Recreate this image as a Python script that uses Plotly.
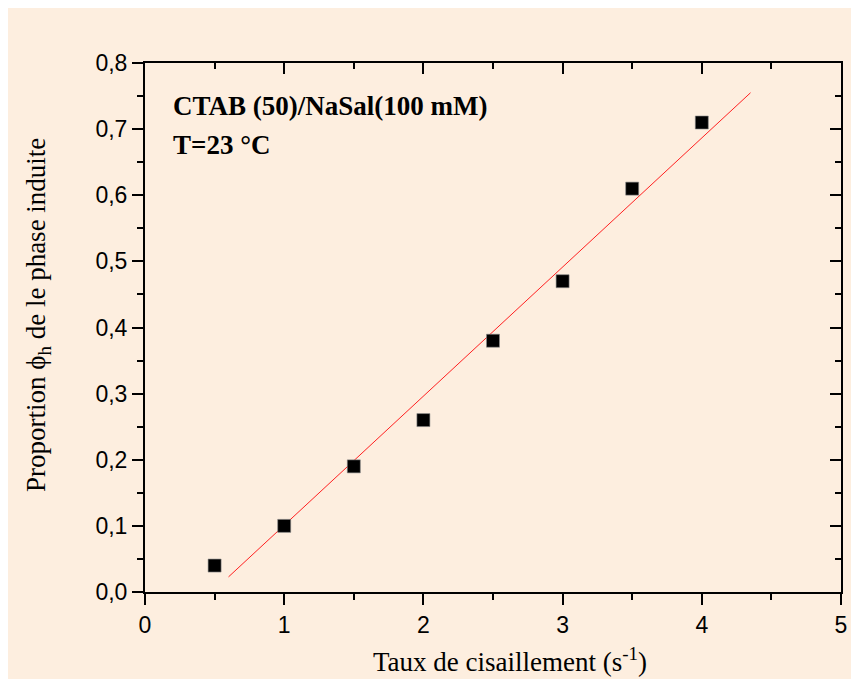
import numpy as np
import plotly.graph_objects as go

# Data
shear_rate = [0.5, 1.0, 1.5, 2.0, 2.5, 3.0, 3.5, 4.0]
proportion = [0.04, 0.10, 0.19, 0.26, 0.38, 0.47, 0.61, 0.71]
fit_x_range = [0.6, 4.35]
annotation_lines = ["CTAB (50)/NaSal(100 mM)", "T=23 °C"]
x_title = "Taux de cisaillement (s<sup>-1</sup>)"
y_title = "Proportion ϕ<sub>h</sub> de le phase induite"

slope, intercept = np.polyfit(shear_rate, proportion, 1)
fit_x = np.array(fit_x_range)
fit_y = slope * fit_x + intercept

W, H = 851, 671
ml, mr, mt, mb = 137, 18, 55, 87
bg = "#FDEEDF"
pw = W - ml - mr
ph = H - mt - mb

fig = go.Figure()
fig.add_trace(go.Scatter(x=fit_x, y=fit_y, mode="lines",
                         line=dict(color="#FF2020", width=1), showlegend=False,
                         hoverinfo="skip"))
fig.add_trace(go.Scatter(x=shear_rate, y=proportion, mode="markers",
                         marker=dict(symbol="square", size=13, color="black",
                                     line=dict(color="#8a8a8a", width=0.6)),
                         showlegend=False))
# invisible trace for mirrored axes
fig.add_trace(go.Scatter(x=[shear_rate[0]], y=[proportion[0]], xaxis="x2", yaxis="y2",
                         mode="markers", marker=dict(opacity=0), showlegend=False,
                         hoverinfo="skip"))

tickfont = dict(family="Liberation Sans, Arial", size=23, color="black")
titlefont = dict(family="Liberation Serif, Times New Roman", size=27, color="black")

fig.update_layout(
    width=W, height=H,
    margin=dict(l=ml, r=mr, t=mt, b=mb),
    paper_bgcolor=bg,
    plot_bgcolor=bg,
    separators=", ",
    xaxis=dict(range=[0, 5], dtick=1, tickformat="d", showgrid=False, zeroline=False,
               showline=True, linecolor="black", linewidth=2,
               ticks="outside", ticklen=11, tickwidth=2, tickcolor="black",
               minor=dict(ticks="outside", ticklen=6, tickwidth=2, tickcolor="black", dtick=0.5),
               tickfont=tickfont),
    yaxis=dict(range=[0, 0.8], dtick=0.1, tickformat=".1f", showgrid=False, zeroline=False,
               showline=True, linecolor="black", linewidth=2,
               ticks="outside", ticklen=11, tickwidth=2, tickcolor="black",
               minor=dict(ticks="outside", ticklen=6, tickwidth=2, tickcolor="black", dtick=0.05),
               tickfont=tickfont),
    xaxis2=dict(range=[0, 5], dtick=1, overlaying="x", side="top", anchor="y2",
                showgrid=False, zeroline=False, showticklabels=False,
                showline=True, linecolor="black", linewidth=2,
                ticks="inside", ticklen=11, tickwidth=2, tickcolor="black",
                minor=dict(ticks="inside", ticklen=6, tickwidth=2, tickcolor="black", dtick=0.5)),
    yaxis2=dict(range=[0, 0.8], dtick=0.1, overlaying="y", side="right", anchor="x2",
                showgrid=False, zeroline=False, showticklabels=False,
                showline=True, linecolor="black", linewidth=2,
                ticks="inside", ticklen=11, tickwidth=2, tickcolor="black",
                minor=dict(ticks="inside", ticklen=6, tickwidth=2, tickcolor="black", dtick=0.05)),
)

# axis titles as annotations (positioned like the reference)
fig.add_annotation(x=(510 - 145) / pw, y=-(660 - 592) / ph, xref="paper", yref="paper",
                   text=x_title, showarrow=False, xanchor="center", yanchor="middle",
                   font=titlefont)
fig.add_annotation(x=-(145 - 38) / pw, y=(592 - 315) / ph, xref="paper", yref="paper",
                   text=y_title, showarrow=False, xanchor="center", yanchor="middle",
                   textangle=-90, font=titlefont)

ann_y = [0.919, 0.845]
for txt, yy in zip(annotation_lines, ann_y):
    fig.add_annotation(x=(171 - 145) / pw, y=yy, xref="paper", yref="paper",
                       text="<b>" + txt + "</b>", showarrow=False,
                       xanchor="left", yanchor="middle",
                       font=dict(family="Liberation Serif, Times New Roman", size=27, color="black"))

fig.write_html("out.html")
